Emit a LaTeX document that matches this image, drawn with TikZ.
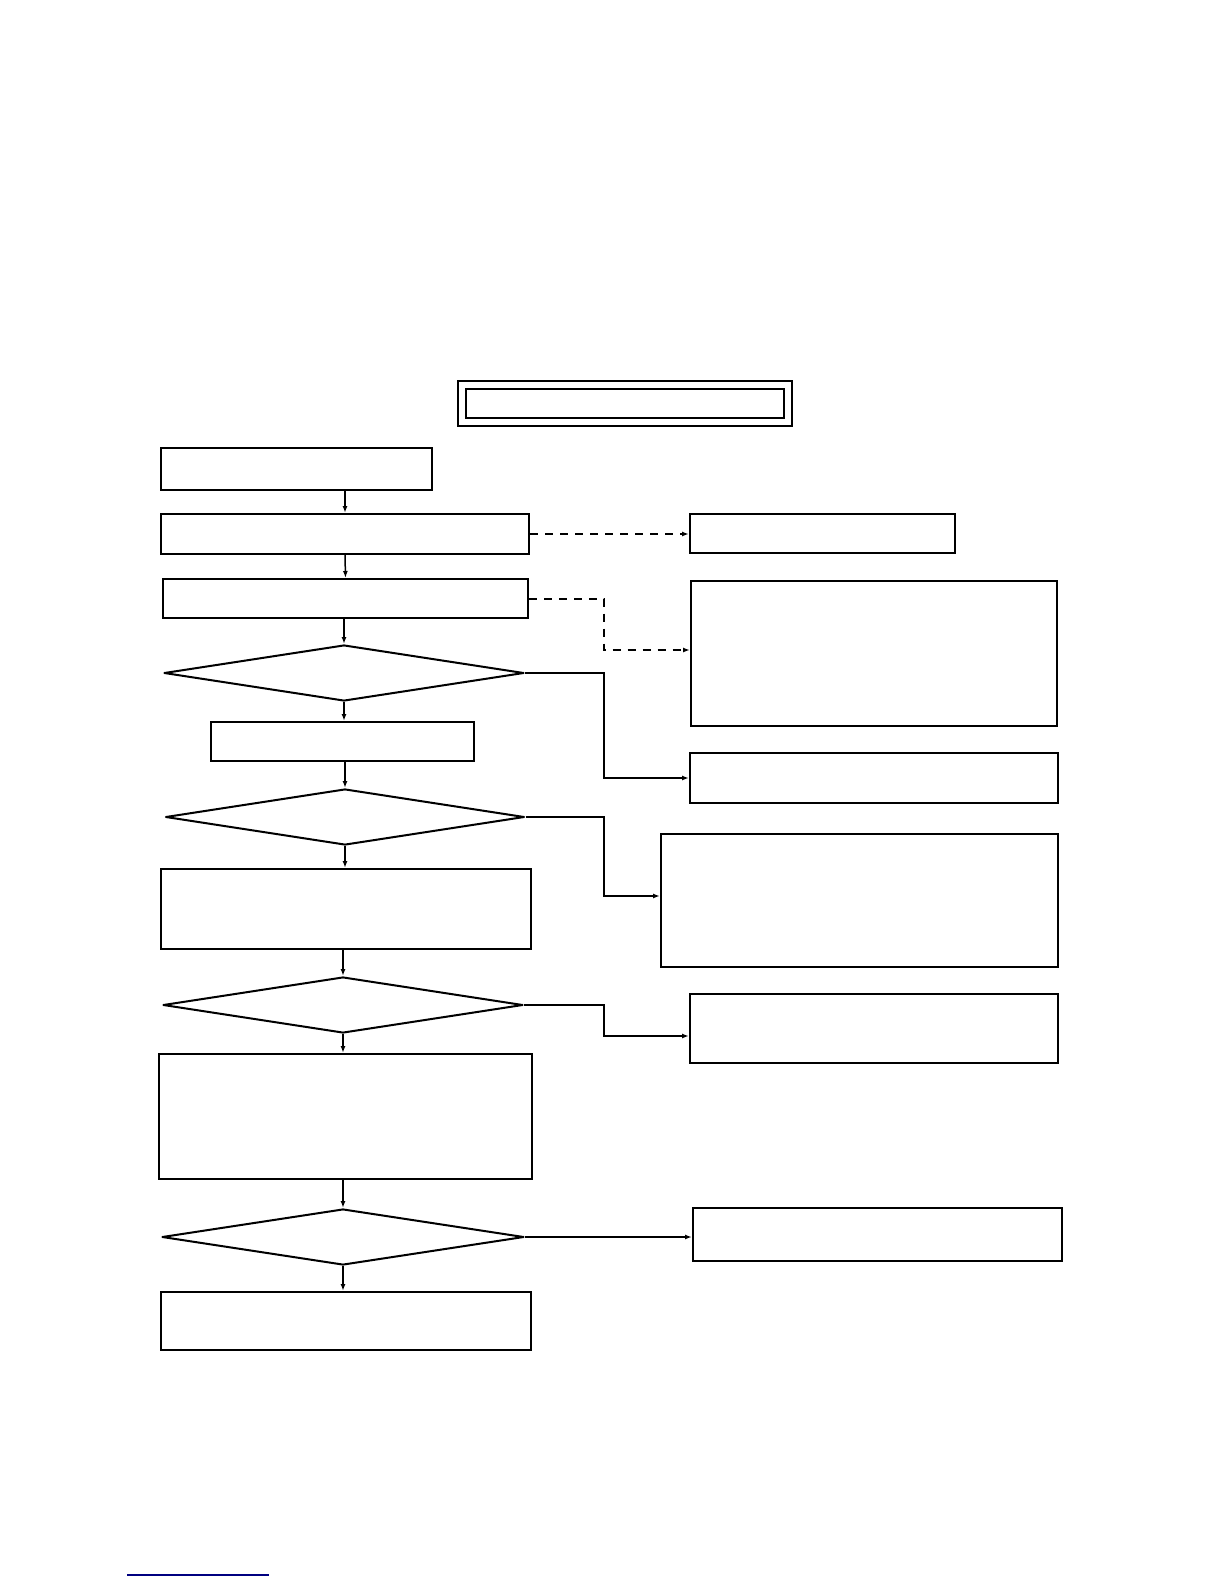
\documentclass[tikz,border=0pt]{standalone}
\usepackage{xcolor}
\usetikzlibrary{arrows.meta, positioning, shapes.geometric}

\begin{document}
\begin{tikzpicture}[
    x=0.5pt, y=-0.5pt,
    box/.style={draw, line width=1pt, inner sep=0pt},
    titlebox/.style={box, double, double distance=3pt},
    test/.style={draw, line width=1pt, line join=round, diamond, inner sep=0pt, aspect=6.4},
    flow/.style={-{Latex[length=3.5pt, width=2.5pt]}, line width=0.75pt},
    hint/.style={flow, line width=1pt, dash pattern=on 4pt off 3.5pt},
]
\useasboundingbox (0,0) rectangle (1224,1584);
% title
\node[titlebox, minimum width=163pt, minimum height=18.75pt] (title) at (625,403.5) {};
% main column
\node[box, minimum width=135.5pt, minimum height=21pt] (start) at (296.5,469) {};
\node[box, minimum width=184pt, minimum height=20pt] (stepa) at (345,534) {};
\node[box, minimum width=182.5pt, minimum height=19.5pt] (stepb) at (345.5,598.5) {};
\node[test, minimum width=180pt, minimum height=28pt] (testa) at (344,673) {};
\node[box, minimum width=131.5pt, minimum height=19.5pt] (stepc) at (342.5,741.5) {};
\node[test, minimum width=179.5pt, minimum height=28pt] (testb) at (345,817) {};
\node[box, minimum width=185pt, minimum height=40pt] (stepd) at (346,909) {};
\node[test, minimum width=180pt, minimum height=28pt] (testc) at (343,1005) {};
\node[box, minimum width=186.5pt, minimum height=62.5pt] (stepe) at (345.5,1116.5) {};
\node[test, minimum width=181pt, minimum height=28pt] (testd) at (343,1237) {};
\node[box, minimum width=185pt, minimum height=29pt] (finish) at (346,1321) {};
% side column
\node[box, minimum width=132.5pt, minimum height=19.5pt] (sidea) at (822.5,533.5) {};
\node[box, minimum width=183pt, minimum height=72.5pt] (sideb) at (874,653.5) {};
\node[box, minimum width=184pt, minimum height=25pt] (sidec) at (874,778) {};
\node[box, minimum width=198.5pt, minimum height=66.5pt] (sided) at (859.5,900.5) {};
\node[box, minimum width=184pt, minimum height=34.5pt] (sidee) at (874,1028.5) {};
\node[box, minimum width=184.5pt, minimum height=26.5pt] (sidef) at (877.5,1234.5) {};
\coordinate (bus) at (604,0);
% main flow
\draw[flow] (stepa.north |- start.south) -- (stepa.north);
\draw[flow] (stepa.south) -- (stepb.north);
\draw[flow] (testa.north |- stepb.south) -- (testa.north);
\draw[flow] (testa.south) -- (stepc.north -| testa.south);
\draw[flow] (testb.north |- stepc.south) -- (testb.north);
\draw[flow] (testb.south) -- (stepd.north -| testb.south);
\draw[flow] (testc.north |- stepd.south) -- (testc.north);
\draw[flow] (testc.south) -- (stepe.north -| testc.south);
\draw[flow] (testd.north |- stepe.south) -- (testd.north);
\draw[flow] (testd.south) -- (finish.north -| testd.south);
% side branches
\draw[hint] (stepa.east) -- (stepa.east -| sidea.west);
\draw[hint] (stepb.east) -- (stepb.east -| bus) |- ([yshift=1.75pt]sideb.west);
\draw[flow] (testa.east) -- (testa.east -| bus) |- (sidec.west);
\draw[flow] (testb.east) -- (testb.east -| bus) |- ([yshift=2.25pt]sided.west);
\draw[flow] (testc.east) -- (testc.east -| bus) |- ([yshift=-3.75pt]sidee.west);
\draw[flow] (testd.east) -- (testd.east -| sidef.west);
% footer rule
\coordinate (rulea) at (127,1575);
\coordinate (ruleb) at (269,1575);
\draw[blue!50!black, line width=0.6pt] (rulea) -- (ruleb);
\end{tikzpicture}
\end{document}
